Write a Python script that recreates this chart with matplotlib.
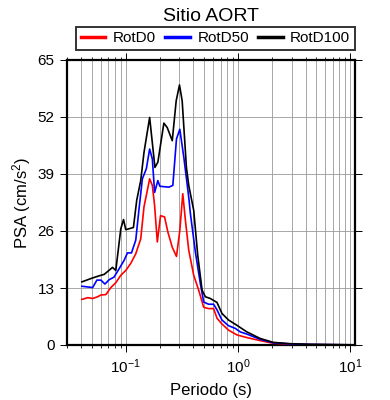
import matplotlib
matplotlib.use("Agg")
from matplotlib import pyplot as plt
from matplotlib.ticker import LogLocator, FixedLocator, NullFormatter

# Spectra (period in s, PSA in cm/s^2);
t_rotd100 = [0.0407, 0.0507, 0.060, 0.0642, 0.0762, 0.0815, 0.0903, 0.0955, 0.100,
             0.117, 0.1252, 0.1359, 0.1453, 0.1632, 0.1819, 0.1932, 0.2185, 0.234,
             0.2595, 0.2813, 0.301, 0.318, 0.347, 0.364, 0.403, 0.4375, 0.4785,
             0.512, 0.567, 0.650, 0.719, 0.823, 0.977, 1.197, 1.571, 2.06, 2.9,
             4.36, 6.56, 10.0]
rotd100 = [14.4, 15.3, 15.9, 16.1, 17.7, 17.0, 26.5, 28.6, 26.3,
           26.8, 33.0, 37.5, 43.9, 51.9, 40.5, 41.7, 50.6, 49.6,
           46.6, 55.7, 59.3, 55.7, 40.5, 36.4, 30.7, 20.5, 12.5,
           11.0, 10.6, 9.7, 7.2, 5.7, 4.5, 3.0, 1.5, 0.6, 0.3,
           0.15, 0.1, 0.05]

t_rotd50 = [0.0407, 0.0507, 0.0553, 0.060, 0.0652, 0.0712, 0.0787, 0.0873, 0.0966,
            0.1035, 0.1124, 0.1227, 0.1312, 0.1406, 0.1525, 0.1632, 0.1725, 0.1807,
            0.1932, 0.2013, 0.242, 0.2626, 0.283, 0.303, 0.329, 0.364, 0.3767,
            0.417, 0.462, 0.4945, 0.547, 0.606, 0.650, 0.719, 0.823, 0.944,
            1.045, 1.197, 1.571, 2.06, 2.9, 4.36, 6.56, 10.0]
rotd50 = [13.4, 13.1, 14.8, 14.8, 13.9, 14.9, 15.5, 17.4, 19.3,
          21.0, 21.0, 23.9, 31.0, 37.9, 40.2, 44.7, 42.4, 34.8,
          37.5, 36.2, 36.0, 36.4, 47.0, 49.2, 42.8, 33.7, 29.9,
          21.2, 14.0, 9.8, 9.3, 9.3, 8.0, 5.7, 4.4, 3.8,
          3.0, 2.5, 1.3, 0.5, 0.25, 0.12, 0.08, 0.04]

t_rotd0 = [0.0407, 0.0458, 0.0507, 0.0561, 0.060, 0.0665, 0.0736, 0.0815, 0.0903,
           0.100, 0.1107, 0.1227, 0.1359, 0.1453, 0.1535, 0.1632, 0.1725, 0.1807,
           0.191, 0.204, 0.2217, 0.237, 0.2595, 0.283, 0.303, 0.322, 0.340,
           0.364, 0.403, 0.4465, 0.4945, 0.547, 0.606, 0.650, 0.719, 0.823,
           0.977, 1.197, 1.571, 2.06, 2.9, 4.36, 6.56, 10.0]
rotd0 = [10.4, 10.8, 10.6, 11.0, 11.4, 11.5, 13.1, 14.2, 15.9,
         17.0, 18.6, 20.8, 24.2, 31.5, 34.5, 37.9, 36.4, 31.8,
         23.5, 29.5, 29.2, 25.8, 22.3, 20.2, 26.1, 34.5, 28.4,
         21.6, 15.9, 12.5, 8.6, 8.3, 8.3, 6.1, 4.8, 3.4,
         2.3, 1.7, 1.0, 0.4, 0.2, 0.1, 0.06, 0.03]

y_ticks = [0, 13, 26, 39, 52, 65]

plt.rcParams['font.family'] = ['Liberation Sans', 'DejaVu Sans']
plt.rcParams['mathtext.fontset'] = 'custom'
plt.rcParams['mathtext.rm'] = 'Liberation Sans'
plt.rcParams['mathtext.it'] = 'Liberation Sans'

fig = plt.figure(figsize=(3.9, 4.0), dpi=100)
ax = fig.add_axes([0.172, 0.1375, 0.738, 0.7125])

ax.plot(t_rotd0, rotd0, color='red', lw=1.2, label='RotD0', zorder=3)
ax.plot(t_rotd50, rotd50, color='blue', lw=1.2, label='RotD50', zorder=4)
ax.plot(t_rotd100, rotd100, color='black', lw=1.2, label='RotD100', zorder=5)

ax.set_xscale('log')
ax.set_xlim(0.03, 11)
ax.set_ylim(0, 65)
ax.set_yticks(y_ticks)
ax.xaxis.set_major_locator(FixedLocator([0.1, 1, 10]))
ax.xaxis.set_minor_locator(LogLocator(base=10, subs=range(2, 10), numticks=20))
ax.xaxis.set_minor_formatter(NullFormatter())

ax.grid(True, which='both', axis='x', color='#999999', lw=0.6)
ax.grid(True, which='major', axis='y', color='#999999', lw=0.6)

ax.tick_params(which='major', direction='out', length=5, width=0.7,
               top=True, right=True, labelsize=11, pad=4)
ax.tick_params(which='minor', direction='out', length=2.5, width=0.6,
               top=True, right=False)
for sp in ax.spines.values():
    sp.set_linewidth(1.6)

ax.set_xlabel('Periodo (s)', fontsize=12, labelpad=5)
ax.set_ylabel('PSA (cm/s$^2$)', fontsize=12, labelpad=3)
ax.set_title('Sitio AORT', fontsize=14, pad=28)

leg = ax.legend(loc='lower right', bbox_to_anchor=(1.0, 1.035), ncol=3,
                fontsize=11, frameon=True, fancybox=False, borderpad=0.3,
                handlelength=1.6, columnspacing=0.6, handletextpad=0.5,
                borderaxespad=0)
leg.get_frame().set_edgecolor('black')
leg.get_frame().set_linewidth(1.4)
for ln in leg.get_lines():
    ln.set_linewidth(2.5)

fig.savefig('out.png', dpi=100)
